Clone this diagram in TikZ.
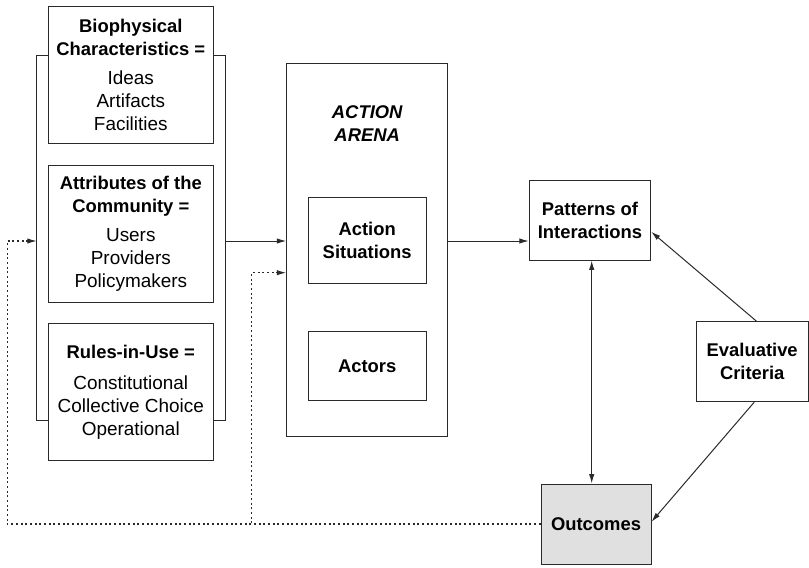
\documentclass[tikz,border=0pt]{standalone}
\usepackage{fontspec}
\setmainfont{Liberation Sans}
\usetikzlibrary{arrows.meta}
\definecolor{ln}{HTML}{2A2A2A}
\definecolor{outfill}{HTML}{E0E0E0}
\begin{document}
\begin{tikzpicture}[x=0.75pt,y=-0.75pt,
  line width=0.75pt,
  box/.style 2 args={draw=ln, rectangle, inner sep=0pt, minimum width={#1*0.75pt}, minimum height={#2*0.75pt}, align=center,
    font=\fontsize{13.8}{17.2}\selectfont\bfseries},
  arr/.style={draw=ln, -{Latex[length=7pt,width=4pt]}},
  darr/.style={draw=ln, {Latex[length=7pt,width=4pt]}-{Latex[length=7pt,width=4pt]}},
  fb/.style={draw=ln, line width=0.8pt, dash pattern=on 1.5pt off 2pt}]
\useasboundingbox (0,0) rectangle (809,567);

% left column boxes
\node[box={165}{137.3}] (b1) at (130.8,75.3) {Biophysical\\Characteristics =\\[4.6pt]{\mdseries\fontsize{14.2}{16.9}\selectfont Ideas}\\{\mdseries\fontsize{14.2}{16.9}\selectfont Artifacts}\\{\mdseries\fontsize{14.2}{16.9}\selectfont Facilities}};
\node[box={165}{136.6}] (b2) at (130.8,234) {Attributes of the\\Community =\\[4.6pt]{\mdseries\fontsize{14.2}{16.9}\selectfont Users}\\{\mdseries\fontsize{14.2}{16.9}\selectfont Providers}\\{\mdseries\fontsize{14.2}{16.9}\selectfont Policymakers}};
\node[box={165}{136.7}] (b3) at (130.8,392.3) {Rules-in-Use =\\[6.5pt]{\mdseries\fontsize{14.2}{16.9}\selectfont Constitutional}\\{\mdseries\fontsize{14.2}{16.9}\selectfont Collective Choice}\\{\mdseries\fontsize{14.2}{16.9}\selectfont Operational}};

% bracket
\coordinate (brTL) at (36.7,56);
\coordinate (brBL) at (36.7,420);
\coordinate (brTR) at (225,56);
\coordinate (brBR) at (225,420);
\coordinate (brL) at (36.7,241);
\coordinate (brR) at (225,241);
\draw[ln] (b1.west |- brTL) -- (brTL) -- (brBL) -- (b3.west |- brBL);
\draw[ln] (b1.east |- brTR) -- (brTR) -- (brBR) -- (b3.east |- brBR);

% action arena
\node[box={161}{372.7}] (arena) at (367.2,250.3) {};
\node[font=\fontsize{13.8}{17.5}\selectfont\bfseries\itshape, align=center] (arenat) at (367.2,123.3) {ACTION\\ARENA};
\node[box={117.7}{85.6}] (sit) at (367.2,240.5) {Action\\Situations};
\node[box={117.7}{69}] (act) at (367.2,366.2) {Actors};

% right side
\node[box={121.4}{80}] (pat) at (590,220) {Patterns of\\Interactions};
\node[box={111.7}{80}] (ev) at (752.2,361.7) {Evaluative\\Criteria};
\node[box={110}{80}, fill=outfill] (outc) at (596,524) {Outcomes};

% connectors
\draw[arr] (brR) -- (arena.west |- brR);
\draw[arr] (arena.east |- brR) -- (pat.west |- brR);
\coordinate (vx) at (591.7,0);
\draw[darr] (pat.south -| vx) -- (outc.north -| vx);
\draw[arr] ([xshift=3.2pt]ev.north) -- ([yshift=-8.8pt]pat.east);
\draw[arr] ([xshift=1.5pt]ev.south) -- ([yshift=1.7pt]outc.east);

% feedback (dotted)
\coordinate (lcorner) at (7.3,241);
\coordinate (mcorner) at (251.7,272.7);
\draw[fb, -{Latex[length=7pt,width=4pt]}] (outc.west) -| (lcorner) -- (brL);
\draw[fb, -{Latex[length=7pt,width=4pt]}] (outc.west) -| (mcorner) -- (mcorner -| arena.west);
\end{tikzpicture}
\end{document}
